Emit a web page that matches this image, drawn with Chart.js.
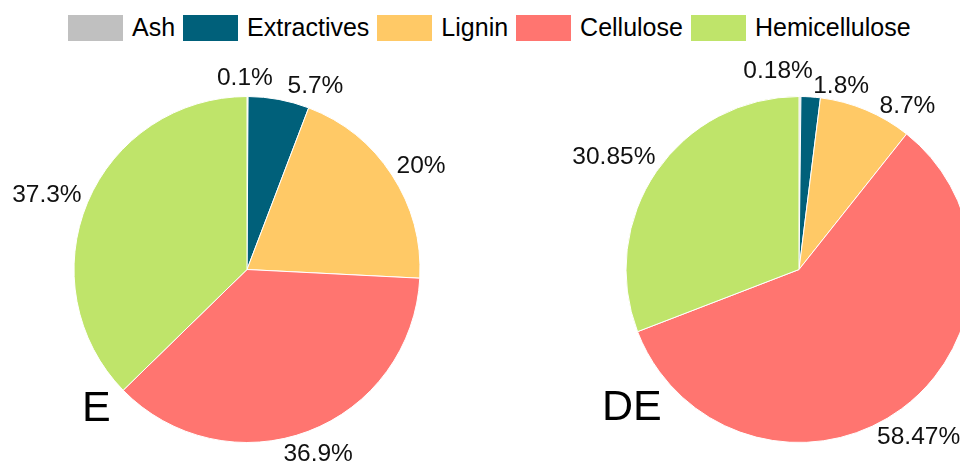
<!DOCTYPE html>
<html>
<head>
<meta charset="utf-8">
<script src="https://cdn.jsdelivr.net/npm/chart.js@4.4.0/dist/chart.umd.min.js"></script>
<style>
  html, body { margin: 0; padding: 0; background: #fff; }
  body { position: relative; width: 960px; height: 464px; overflow: hidden; font-family: "Liberation Sans", Arial, sans-serif; }
  .pane { position: absolute; top: 0; width: 480px; height: 464px; }
  #legend { position: absolute; left: 68px; top: 13px; display: flex; align-items: center; font-size: 25px; color: #000; white-space: nowrap; }
  #legend .item { display: flex; align-items: center; margin-right: 8px; }
  #legend .box { width: 55px; height: 26px; margin-right: 9px; }
  .tag { position: absolute; font-size: 43px; line-height: 1; color: #000; }
</style>
</head>
<body>
<div id="legend"></div>
<div class="pane" style="left:0"><canvas id="chartE" width="480" height="464"></canvas></div>
<div class="pane" style="left:560px"><canvas id="chartDE" width="480" height="464"></canvas></div>
<div class="tag" style="left:82px; top:385px">E</div>
<div class="tag" style="left:602px; top:384px">DE</div>

<script>
const categories = ['Ash', 'Extractives', 'Lignin', 'Cellulose', 'Hemicellulose'];
const colors = ['#c0c0c0', '#00607a', '#ffc966', '#ff7570', '#bfe46a'];

const valuesE = [0.1, 5.7, 20, 36.9, 37.3];
const valuesDE = [0.18, 1.8, 8.7, 58.47, 30.85];
const labelsE = ['0.1%', '5.7%', '20%', '36.9%', '37.3%'];
const labelsDE = ['0.18%', '1.8%', '8.7%', '58.47%', '30.85%'];

// label placement: [angle nudge in degrees, distance as share of radius]
const placeE = [[-0.8, 1.116], [9.7, 1.14], [2, 1.175], [-0.6, 1.132], [-2.1, 1.237]];
const placeDE = [[-6.3, 1.162], [8.9, 1.10], [10.45, 1.144], [0.5, 1.182], [-2.75, 1.258]];

// legend
const legend = document.getElementById('legend');
categories.forEach(function (name, i) {
  const item = document.createElement('div');
  item.className = 'item';
  item.innerHTML = '<span class="box" style="background:' + colors[i] + '"></span><span>' + name + '</span>';
  legend.appendChild(item);
});

const pieLabels = {
  id: 'pieLabels',
  afterDatasetsDraw(chart, args, opts) {
    const ctx = chart.ctx;
    const arcs = chart.getDatasetMeta(0).data;
    ctx.save();
    ctx.font = '24.5px "Liberation Sans", Arial, sans-serif';
    ctx.fillStyle = '#111';
    ctx.textAlign = 'center';
    ctx.textBaseline = 'alphabetic';
    arcs.forEach(function (arc, i) {
      const p = arc.getProps(['x', 'y', 'startAngle', 'endAngle', 'outerRadius'], true);
      const mid = (p.startAngle + p.endAngle) / 2 + opts.place[i][0] * Math.PI / 180;
      const d = p.outerRadius * opts.place[i][1];
      const x = p.x + d * Math.cos(mid);
      const y = p.y + d * Math.sin(mid);
      ctx.fillText(opts.texts[i], x, y + 8.8);
    });
    ctx.restore();
  }
};

function makePie(id, values, texts, place, pad) {
  new Chart(document.getElementById(id).getContext('2d'), {
    type: 'pie',
    data: {
      labels: categories,
      datasets: [{
        data: values,
        backgroundColor: colors,
        borderColor: '#ffffff',
        borderWidth: 1,
        hoverOffset: 0,
        offset: 0
      }]
    },
    options: {
      responsive: false,
      animation: false,
      radius: 173,
      layout: { padding: pad },
      plugins: {
        legend: { display: false },
        tooltip: { enabled: false },
        pieLabels: { texts: texts, place: place }
      }
    },
    plugins: [pieLabels]
  });
}

makePie('chartE', valuesE, labelsE, placeE, { left: 74, right: 60, top: 97, bottom: 22 });
makePie('chartDE', valuesDE, labelsDE, placeDE, { left: 66, right: 68, top: 97, bottom: 22 });
</script>
</body>
</html>
